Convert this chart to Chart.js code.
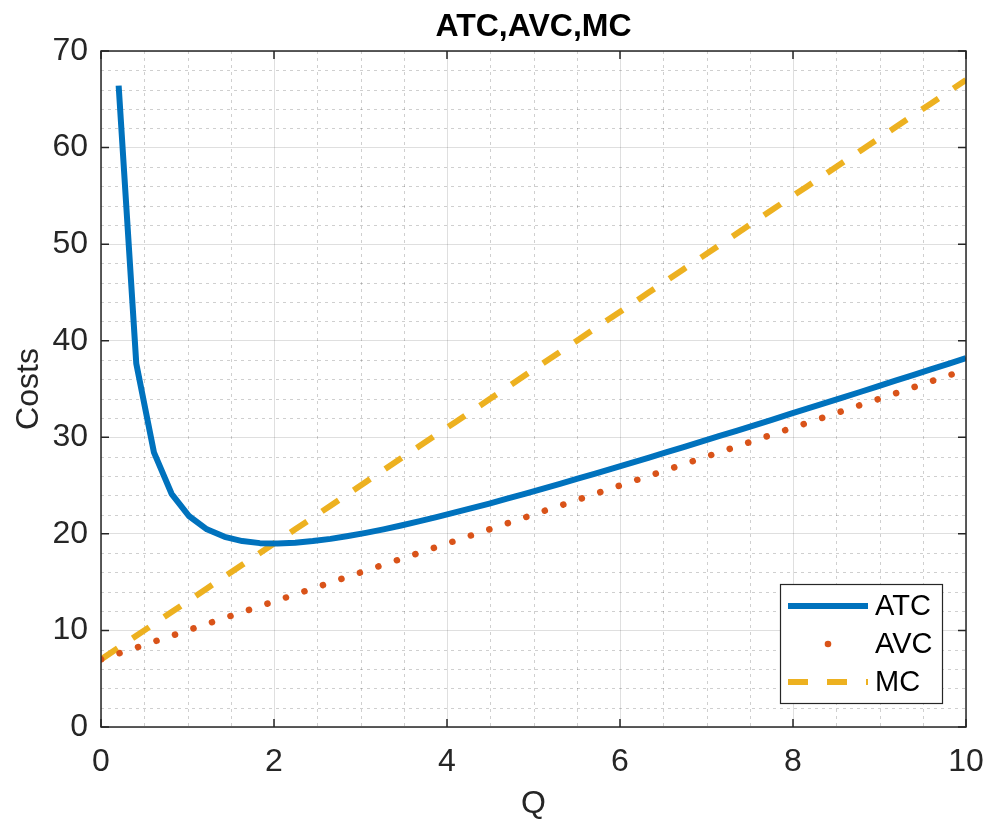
<!DOCTYPE html>
<html>
<head>
<meta charset="utf-8">
<script src="https://cdn.jsdelivr.net/npm/chart.js@4.4.1/dist/chart.umd.min.js"></script>
<style>
html, body { margin: 0; padding: 0; background: #fff; }
#wrap { width: 988px; height: 823px; }
</style>
</head>
<body>
<div id="wrap"><canvas id="chart" width="988" height="823"></canvas></div>
<script>
// quantity grid
const Q = [0, 0.204, 0.408, 0.612, 0.816, 1.020, 1.224, 1.429, 1.633, 1.837,
    2.041, 2.245, 2.449, 2.653, 2.857, 3.061, 3.265, 3.469, 3.673, 3.878,
    4.082, 4.286, 4.490, 4.694, 4.898, 5.102, 5.306, 5.510, 5.714, 5.918,
    6.122, 6.327, 6.531, 6.735, 6.939, 7.143, 7.347, 7.551, 7.755, 7.959,
    8.163, 8.367, 8.571, 8.776, 8.980, 9.184, 9.388, 9.592, 9.796, 10]
const ATC = [null, 66.41, 37.62, 28.44, 24.15, 21.82, 20.47, 19.69, 19.25, 19.04,
    19.00, 19.08, 19.25, 19.48, 19.77, 20.10, 20.47, 20.87, 21.29, 21.73,
    22.19, 22.66, 23.14, 23.64, 24.14, 24.66, 25.18, 25.71, 26.24, 26.78,
    27.33, 27.88, 28.43, 28.99, 29.55, 30.11, 30.67, 31.24, 31.81, 32.39,
    32.96, 33.54, 34.11, 34.69, 35.28, 35.86, 36.44, 37.03, 37.61, 38.20]
const AVC = [7.00, 7.61, 8.22, 8.84, 9.45, 10.06, 10.67, 11.29, 11.90, 12.51,
    13.12, 13.73, 14.35, 14.96, 15.57, 16.18, 16.80, 17.41, 18.02, 18.63,
    19.24, 19.86, 20.47, 21.08, 21.69, 22.31, 22.92, 23.53, 24.14, 24.76,
    25.37, 25.98, 26.59, 27.20, 27.82, 28.43, 29.04, 29.65, 30.27, 30.88,
    31.49, 32.10, 32.71, 33.33, 33.94, 34.55, 35.16, 35.78, 36.39, 37.00]
const MC = [7.00, 8.22, 9.45, 10.67, 11.90, 13.12, 14.35, 15.57, 16.80, 18.02,
    19.24, 20.47, 21.69, 22.92, 24.14, 25.37, 26.59, 27.82, 29.04, 30.27,
    31.49, 32.71, 33.94, 35.16, 36.39, 37.61, 38.84, 40.06, 41.29, 42.51,
    43.73, 44.96, 46.18, 47.41, 48.63, 49.86, 51.08, 52.31, 53.53, 54.76,
    55.98, 57.20, 58.43, 59.65, 60.88, 62.10, 63.33, 64.55, 65.78, 67.00]

const xTicks = [0, 2, 4, 6, 8, 10]
const yTicks = [0, 10, 20, 30, 40, 50, 60, 70]
const xMinor = [0.5, 1, 1.5, 2.5, 3, 3.5, 4.5, 5, 5.5, 6.5, 7, 7.5, 8.5, 9, 9.5]
const yMinor = [2, 4, 6, 8, 12, 14, 16, 18, 22, 24, 26, 28, 32, 34, 36, 38, 42, 44, 46, 48, 52, 54, 56, 58, 62, 64, 66, 68]

const seriesNames = ["ATC", "AVC", "MC"]
const colors = ["#0072BD", "#D95319", "#EDB120"]
const titleText = "ATC,AVC,MC"

const FONT = "'Liberation Sans', Arial, Helvetica, sans-serif"
const axisColor = "#262626"

function pts(ys){
    return Q.map((q, i) => ({x: q, y: ys[i]}))
}

const minorGrid = {
    id: "minorGrid",
    beforeDatasetsDraw(chart){
        const {ctx, chartArea: a, scales: {x, y}} = chart
        ctx.save()
        ctx.strokeStyle = "rgba(38,38,38,0.22)"
        ctx.lineWidth = 1
        ctx.setLineDash([3, 4])
        for(let v of xMinor){
            let px = Math.round(x.getPixelForValue(v)) + 0.5
            ctx.beginPath(); ctx.moveTo(px, a.top); ctx.lineTo(px, a.bottom); ctx.stroke()
        }
        for(let v of yMinor){
            let py = Math.round(y.getPixelForValue(v)) + 0.5
            ctx.beginPath(); ctx.moveTo(a.left, py); ctx.lineTo(a.right, py); ctx.stroke()
        }
        ctx.restore()
    }
}

const frame = {
    id: "frame",
    afterDatasetsDraw(chart){
        const {ctx, chartArea: a, scales: {x, y}} = chart
        ctx.save()
        // box
        ctx.strokeStyle = axisColor
        ctx.lineWidth = 1.5
        ctx.strokeRect(a.left, a.top, a.right - a.left, a.bottom - a.top)
        // inward ticks
        const tl = 8
        ctx.beginPath()
        for(let v of xTicks){
            let px = x.getPixelForValue(v)
            ctx.moveTo(px, a.bottom); ctx.lineTo(px, a.bottom - tl)
            ctx.moveTo(px, a.top); ctx.lineTo(px, a.top + tl)
        }
        for(let v of yTicks){
            let py = y.getPixelForValue(v)
            ctx.moveTo(a.left, py); ctx.lineTo(a.left + tl, py)
            ctx.moveTo(a.right, py); ctx.lineTo(a.right - tl, py)
        }
        ctx.stroke()

        // title
        ctx.fillStyle = "#000"
        ctx.font = "bold 32px " + FONT
        ctx.textAlign = "center"
        ctx.textBaseline = "middle"
        ctx.fillText(titleText, (a.left + a.right) / 2, 27)

        // legend
        const lx = 780, ly = 584, lw = 162, lh = 119
        ctx.fillStyle = "#fff"
        ctx.fillRect(lx, ly, lw, lh)
        ctx.strokeStyle = axisColor
        ctx.lineWidth = 1.2
        ctx.strokeRect(lx + 0.5, ly + 0.5, lw, lh)
        const rows = [606, 644, 682]
        ctx.font = "29px " + FONT
        ctx.textAlign = "left"
        for(let i = 0; i < seriesNames.length; i++){
            let ry = rows[i]
            ctx.strokeStyle = colors[i]
            ctx.fillStyle = colors[i]
            ctx.lineWidth = 6
            if(i == 0){
                ctx.setLineDash([])
                ctx.lineCap = "butt"
                ctx.beginPath(); ctx.moveTo(788, ry); ctx.lineTo(868, ry); ctx.stroke()
            } else if(i == 1){
                ctx.beginPath(); ctx.arc(828, ry, 3.3, 0, Math.PI * 2); ctx.fill()
            } else {
                ctx.setLineDash([20, 19])
                ctx.lineCap = "butt"
                ctx.beginPath(); ctx.moveTo(788, ry); ctx.lineTo(868, ry); ctx.stroke()
                ctx.setLineDash([])
            }
            ctx.fillStyle = "#000"
            ctx.fillText(seriesNames[i], 875, ry + 1)
        }
        ctx.restore()
    }
}

const ctx_1 = document.getElementById("chart").getContext("2d")
const chart_1 = new Chart(ctx_1, {
    type: "line",
    data: {
        datasets: [
            {
                label: seriesNames[0],
                data: pts(ATC),
                borderColor: colors[0],
                borderWidth: 6,
                pointRadius: 0,
                tension: 0,
                borderJoinStyle: "round"
            },
            {
                label: seriesNames[1],
                data: pts(AVC),
                borderColor: colors[1],
                borderWidth: 6.5,
                borderDash: [0.1, 19.4],
                borderCapStyle: "round",
                pointRadius: 0,
                tension: 0
            },
            {
                label: seriesNames[2],
                data: pts(MC),
                borderColor: colors[2],
                borderWidth: 6,
                borderDash: [20, 18],
                borderCapStyle: "butt",
                pointRadius: 0,
                tension: 0
            }
        ]
    },
    options: {
        responsive: false,
        devicePixelRatio: 1,
        animation: false,
        layout: { padding: { top: 51, right: 22, left: 0, bottom: 0 } },
        plugins: {
            legend: { display: false },
            tooltip: { enabled: false },
            title: { display: false }
        },
        scales: {
            x: {
                type: "linear",
                min: 0,
                max: 10,
                afterBuildTicks: (s) => { s.ticks = xTicks.map(v => ({value: v})) },
                afterFit: (s) => { s.height = 96; s.paddingLeft = 0; s.paddingRight = 0 },
                ticks: {
                    font: { family: FONT, size: 32 },
                    color: axisColor,
                    padding: 16,
                    maxRotation: 0
                },
                grid: { color: "rgba(38,38,38,0.15)", lineWidth: 1, drawTicks: false },
                border: { display: false },
                title: {
                    display: true,
                    text: "Q",
                    font: { family: FONT, size: 32 },
                    color: axisColor,
                    padding: { top: 0, bottom: 0 }
                }
            },
            y: {
                type: "linear",
                min: 0,
                max: 70,
                afterBuildTicks: (s) => { s.ticks = yTicks.map(v => ({value: v})) },
                afterFit: (s) => { s.width = 101; s.paddingTop = 0; s.paddingBottom = 0 },
                ticks: {
                    font: { family: FONT, size: 32 },
                    color: axisColor,
                    padding: 13
                },
                grid: { color: "rgba(38,38,38,0.15)", lineWidth: 1, drawTicks: false },
                border: { display: false },
                title: {
                    display: true,
                    text: "Costs",
                    font: { family: FONT, size: 32 },
                    color: axisColor,
                    padding: { top: 10, bottom: 0 }
                }
            }
        }
    },
    plugins: [minorGrid, frame]
})
</script>
</body>
</html>
